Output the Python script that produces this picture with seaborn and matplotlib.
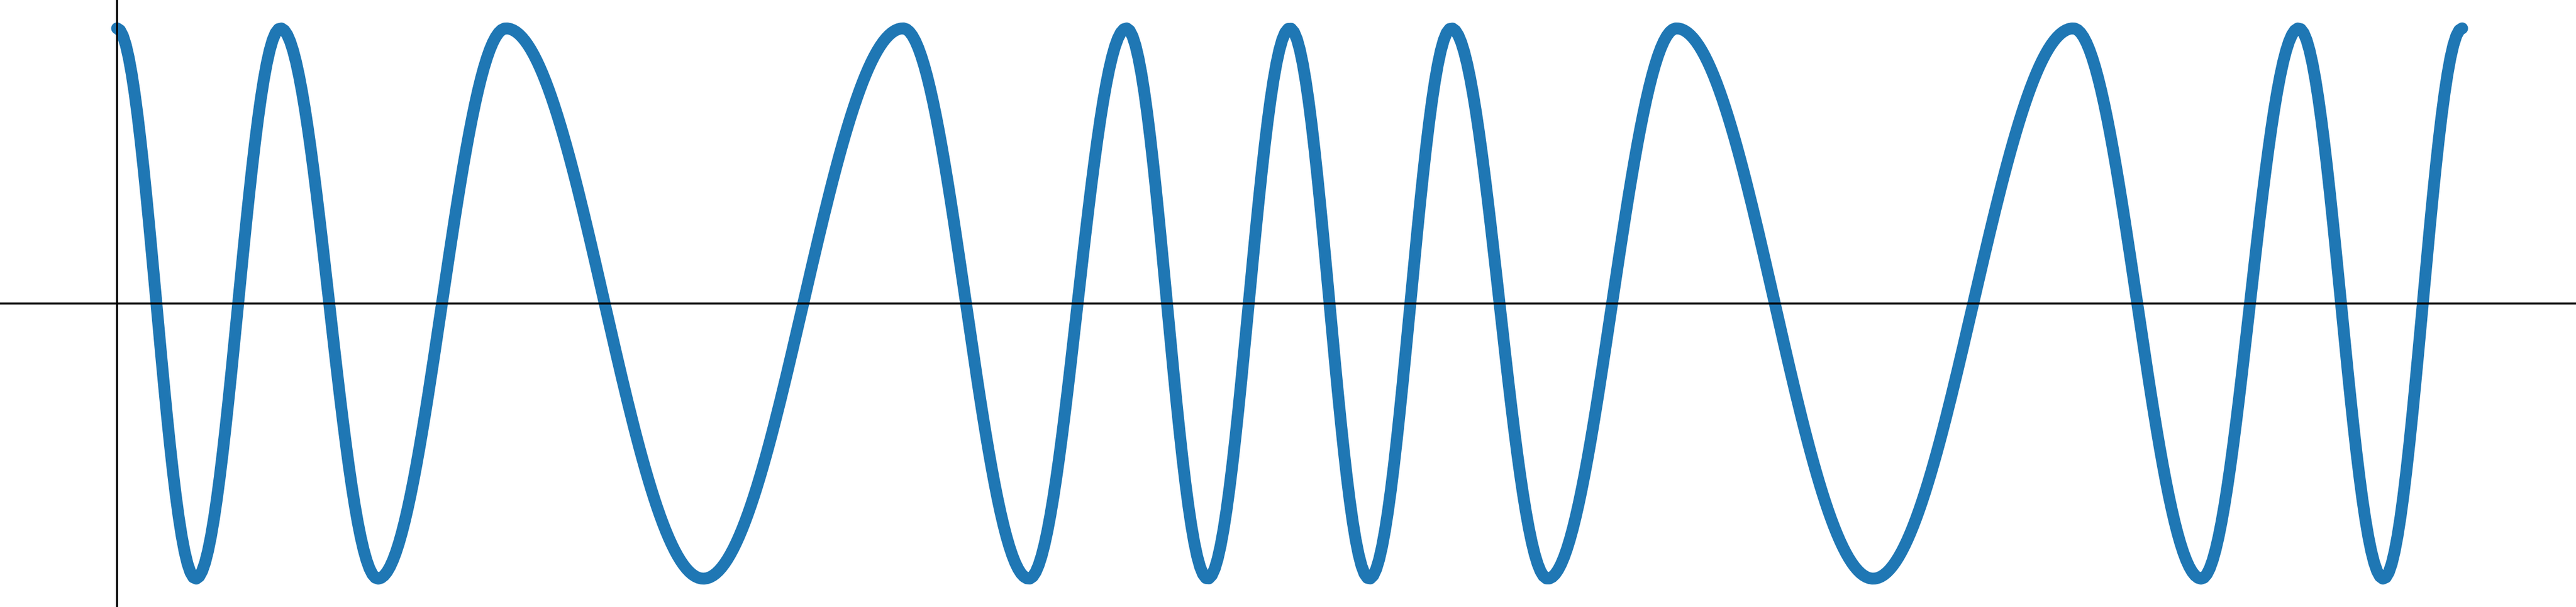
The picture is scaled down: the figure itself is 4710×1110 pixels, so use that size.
import numpy as np
import pandas as pd
import matplotlib
matplotlib.use('Agg')
import matplotlib.pyplot as plt
import seaborn as sns

# positions of the crests and troughs (x axis, origin at the vertical line)
peaks_x = [0.000, 0.438, 1.042, 2.106, 2.704, 3.142, 3.575, 4.178, 5.241, 5.845, 6.283]
troughs_x = [0.211, 0.699, 1.571, 2.443, 2.922, 3.355, 3.833, 4.705, 5.584, 6.072]
peak_y = 1.0
trough_y = -1.0

# crests and troughs alternate; the wave goes through them with a half turn of phase each
ext_x = np.sort(np.array(peaks_x + troughs_x))
ext_phase = np.arange(len(ext_x)) * np.pi

xs = np.linspace(ext_x[0], ext_x[-1], 800)
phase = np.interp(xs, ext_x, ext_phase)
ys = (peak_y - trough_y) / 2 * np.cos(phase) + (peak_y + trough_y) / 2
df = pd.DataFrame({'x': xs, 'y': ys})

sns.set_style('white')
fig = plt.figure(figsize=(47.1, 11.1), dpi=100)
ax = fig.add_axes([0, 0, 1, 1])

sns.lineplot(data=df, x='x', y='y', ax=ax, sort=False, estimator=None,
             color='#1f77b4', linewidth=15.6, zorder=2)

ax.axhline(0, color='black', linewidth=2.7, zorder=3)
ax.axvline(0, color='black', linewidth=2.7, zorder=3)

ax.set_xlim(-0.3136, 6.588)
ax.set_ylim(-1.103, 1.103)
ax.set_xlabel('')
ax.set_ylabel('')
ax.set_xticks([])
ax.set_yticks([])
for s in ax.spines.values():
    s.set_visible(False)

fig.savefig('out.png', dpi=100)
